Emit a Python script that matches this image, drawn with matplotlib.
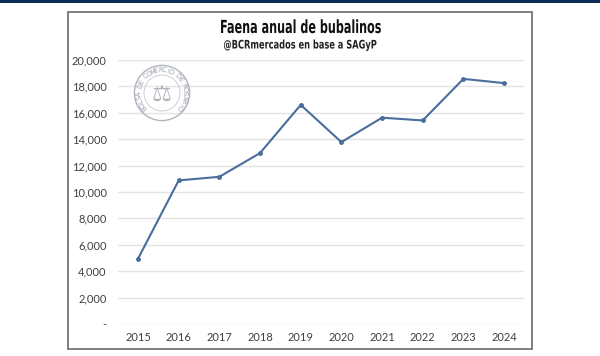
import numpy as np
import matplotlib
matplotlib.use("Agg")
import matplotlib.pyplot as plt
from matplotlib.patches import Rectangle, Circle
from matplotlib.patheffects import AbstractPathEffect
from matplotlib.transforms import Affine2D
from matplotlib.ticker import FuncFormatter

years = [2015, 2016, 2017, 2018, 2019, 2020, 2021, 2022, 2023, 2024]
faena = [4950, 10880, 11150, 12950, 16600, 13780, 15630, 15420, 18570, 18250]

title = "Faena anual de bubalinos"
subtitle = "@BCRmercados en base a SAGyP"
seal_text = "BOLSA DE COMERCIO DE ROSARIO"


class Squeeze(AbstractPathEffect):
    # narrow the glyphs horizontally around x = cx (display pixels)
    def __init__(self, sx, cx):
        super().__init__()
        self.sx = sx
        self.cx = cx

    def draw_path(self, renderer, gc, tpath, affine, rgbFace=None):
        t = affine + Affine2D().translate(-self.cx, 0).scale(self.sx, 1).translate(self.cx, 0)
        renderer.draw_path(gc, tpath, t, rgbFace)


fig = plt.figure(figsize=(6, 3.56), dpi=100)
fig.patch.set_facecolor("white")

# navy band on top and the grey frame around the chart
fig.patches.append(Rectangle((0, 1 - 3 / 356), 1, 3 / 356, transform=fig.transFigure,
                             facecolor="#0c2b57", edgecolor="none", zorder=-1))
fig.patches.append(Rectangle((68 / 600, 1 - 349 / 356), 464 / 600, 337 / 356,
                             transform=fig.transFigure, facecolor="none",
                             edgecolor="#7f7f7f", linewidth=1.4, zorder=-1))

ax = fig.add_axes([117.7 / 600, 1 - 324 / 356, 406.7 / 600, 264 / 356])
ax.set_facecolor("none")
ax.plot(years, faena, color="#4a6d9e", linewidth=1.5, marker="o", markersize=2.5, zorder=3)

ax.set_xlim(2014.5, 2024.5)
ax.set_ylim(0, 20000)
ax.set_xticks(years)
ax.set_yticks(np.arange(0, 20001, 2000))
ax.yaxis.set_major_formatter(FuncFormatter(lambda v, p: "-" if v == 0 else f"{int(v):,}"))
ax.grid(axis="y", color="#e3e3e3", linewidth=1)
for s in ax.spines.values():
    s.set_visible(False)
ax.tick_params(length=0, labelsize=8, colors="#404040", pad=6)
ax.tick_params(axis="y", pad=8)
for lab in ax.get_xticklabels() + ax.get_yticklabels():
    lab.set_family("Lato")

fig.text(0.5, 1 - 28 / 356, title, ha="center", va="center", fontsize=13,
         fontweight="bold", family="DejaVu Sans", color="#111111",
         path_effects=[Squeeze(0.62, 300)])
fig.text(0.5, 1 - 45 / 356, subtitle, ha="center", va="center", fontsize=8.5,
         fontweight="bold", family="DejaVu Sans", color="#222222",
         path_effects=[Squeeze(0.70, 300)])

# faint seal watermark
sx = fig.add_axes([132 / 600, 1 - 123 / 356, 60 / 600, 60 / 356])
sx.set_xlim(-1, 1)
sx.set_ylim(-1, 1)
sx.set_aspect("equal")
sx.axis("off")
sx.add_patch(Circle((0, 0), 0.92, fill=False, edgecolor="#b0b4bc", linewidth=1.0))
sx.add_patch(Circle((0, 0), 0.60, fill=False, edgecolor="#c4c8ce", linewidth=0.6))
n = len(seal_text)
angles = np.linspace(220, -40, n)
for ch, a in zip(seal_text, angles):
    r = 0.76
    sx.text(r * np.cos(np.radians(a)), r * np.sin(np.radians(a)), ch, rotation=a - 90,
            ha="center", va="center", fontsize=4.8, color="#9ca2ad")
sx.text(0, -0.05, "\u2696", ha="center", va="center", fontsize=16, color="#aeb3bc",
        family="DejaVu Sans")

fig.savefig("out.png", dpi=100)
